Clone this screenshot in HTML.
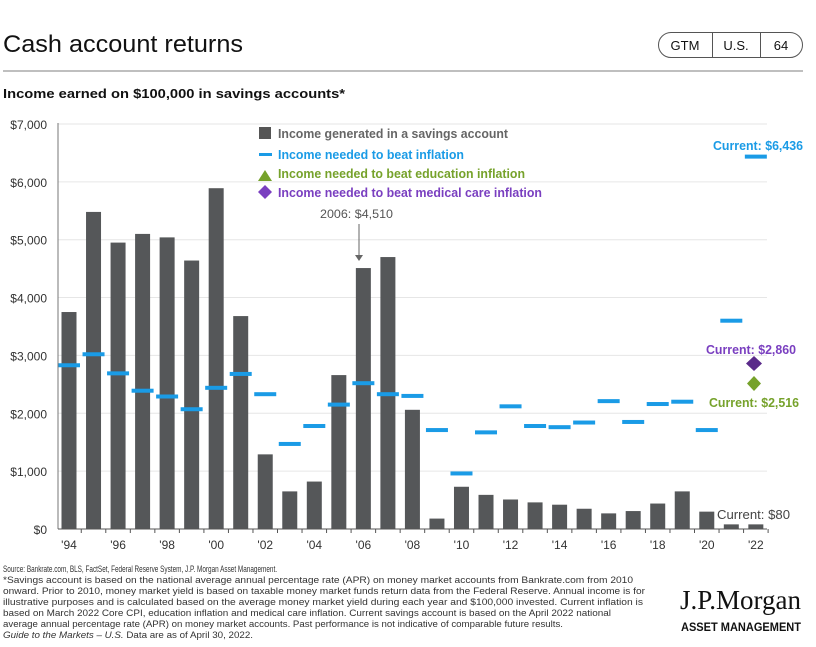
<!DOCTYPE html>
<html><head><meta charset="utf-8"><style>
html,body{margin:0;padding:0;background:#fff;}
svg{display:block;font-family:"Liberation Sans",sans-serif;}
</style></head><body>
<svg id="s" width="816" height="647" viewBox="0 0 816 647" xmlns="http://www.w3.org/2000/svg">
<text x="3" y="52" font-size="24" fill="#111" textLength="240" lengthAdjust="spacingAndGlyphs">Cash account returns</text>
<rect x="658.5" y="32.5" width="144" height="25" rx="12.5" fill="none" stroke="#555" stroke-width="1"/>
<line x1="712.5" y1="33" x2="712.5" y2="57" stroke="#555"/>
<line x1="760.5" y1="33" x2="760.5" y2="57" stroke="#555"/>
<text x="685" y="50" font-size="13" fill="#111" text-anchor="middle">GTM</text>
<text x="736" y="50" font-size="13" fill="#111" text-anchor="middle">U.S.</text>
<text x="781" y="50" font-size="13" fill="#111" text-anchor="middle">64</text>
<line x1="3" y1="71" x2="803" y2="71" stroke="#999" stroke-width="1.2"/>
<text x="3" y="98" font-size="13" font-weight="bold" fill="#111" textLength="342" lengthAdjust="spacingAndGlyphs">Income earned on $100,000 in savings accounts*</text>
<g id="grid"></g>
<g id="bars"></g>
<line x1="58" y1="123" x2="58" y2="529" stroke="#777" stroke-width="1"/>
<line x1="58" y1="529" x2="767" y2="529" stroke="#555" stroke-width="1"/>
<g id="ax" font-size="12" fill="#333"></g>
<rect x="259" y="127" width="12" height="12" fill="#555"/>
<text x="278" y="138" font-size="12.5" fill="#666" font-weight="bold" textLength="230" lengthAdjust="spacingAndGlyphs">Income generated in a savings account</text>
<rect x="259" y="153" width="13" height="3" fill="#1a9be6"/>
<text x="278" y="159" font-size="12.5" fill="#1a9be6" font-weight="bold" textLength="186" lengthAdjust="spacingAndGlyphs">Income needed to beat inflation</text>
<polygon points="265,170 272,181 258,181" fill="#76a22b"/>
<text x="278" y="178" font-size="12.5" fill="#76a22b" font-weight="bold" textLength="247" lengthAdjust="spacingAndGlyphs">Income needed to beat education inflation</text>
<polygon points="265,185 272,192 265,199 258,192" fill="#7a3fc0"/>
<text x="278" y="197" font-size="12.5" fill="#7a3fc0" font-weight="bold" textLength="264" lengthAdjust="spacingAndGlyphs">Income needed to beat medical care inflation</text>
<text x="320" y="218" font-size="12" fill="#555" textLength="73" lengthAdjust="spacingAndGlyphs">2006: $4,510</text>
<line x1="359" y1="224" x2="359" y2="256" stroke="#666" stroke-width="1"/>
<polygon points="355,255 363,255 359,261" fill="#666"/>
<text x="713" y="150" font-size="12.5" fill="#1a9be6" font-weight="bold" textLength="90" lengthAdjust="spacingAndGlyphs">Current: $6,436</text>
<text x="706" y="354" font-size="12.5" fill="#7a3fc0" font-weight="bold" textLength="90" lengthAdjust="spacingAndGlyphs">Current: $2,860</text>
<polygon points="754,356 762,363.5 754,371 746,363.5" fill="#5a2a8a"/>
<polygon points="754,376 761,383.5 754,391 747,383.5" fill="#76a22b"/>
<text x="709" y="407" font-size="12.5" fill="#76a22b" font-weight="bold" textLength="90" lengthAdjust="spacingAndGlyphs">Current: $2,516</text>
<text x="717" y="519" font-size="12.5" fill="#444" textLength="73" lengthAdjust="spacingAndGlyphs">Current: $80</text>
<g font-size="9" fill="#333">
<text x="3" y="572" textLength="274" lengthAdjust="spacingAndGlyphs">Source: Bankrate.com, BLS, FactSet, Federal Reserve System, J.P. Morgan Asset Management.</text>
<text x="3" y="583" textLength="630" lengthAdjust="spacingAndGlyphs">*Savings account is based on the national average annual percentage rate (APR) on money market accounts from Bankrate.com from 2010</text>
<text x="3" y="594" textLength="642" lengthAdjust="spacingAndGlyphs">onward. Prior to 2010, money market yield is based on taxable money market funds return data from the Federal Reserve. Annual income is for</text>
<text x="3" y="605" textLength="640" lengthAdjust="spacingAndGlyphs">illustrative purposes and is calculated based on the average money market yield during each year and $100,000 invested. Current inflation is</text>
<text x="3" y="616" textLength="608" lengthAdjust="spacingAndGlyphs">based on March 2022 Core CPI, education inflation and medical care inflation. Current savings account is based on the April 2022 national</text>
<text x="3" y="627" textLength="560" lengthAdjust="spacingAndGlyphs">average annual percentage rate (APR) on money market accounts. Past performance is not indicative of comparable future results.</text>
<text x="3" y="638" textLength="250" lengthAdjust="spacingAndGlyphs"><tspan font-style="italic">Guide to the Markets – U.S.</tspan> Data are as of April 30, 2022.</text>
</g>
<text x="680" y="609" font-family="Liberation Serif,serif" font-size="27" fill="#111" textLength="121" lengthAdjust="spacingAndGlyphs">J.P.Morgan</text>
<text x="681" y="631" font-size="11.5" font-weight="bold" fill="#111" textLength="120" lengthAdjust="spacingAndGlyphs">ASSET MANAGEMENT</text>
</svg>
<script>
var NS="http://www.w3.org/2000/svg";
function Y(v){return 529-v*0.05786;}
function el(p,t,a,txt){var e=document.createElementNS(NS,t);for(var k in a)e.setAttribute(k,a[k]);if(txt!=null)e.textContent=txt;document.getElementById(p).appendChild(e);}
for(var i=1;i<=7;i++){el("grid","line",{x1:58,x2:767,y1:Y(i*1000),y2:Y(i*1000),stroke:"#e6e6e6","stroke-width":1});}
for(var i=0;i<=7;i++){el("ax","text",{x:47,y:Y(i*1000)+5,"text-anchor":"end"},"$"+(i==0?"0":i+",000"));}
var inc=[3750,5480,4950,5100,5040,4640,5890,3680,1290,650,820,2660,4510,4700,2060,180,730,590,510,460,420,350,270,310,440,650,300,80,80];
var inf=[2830,3020,2690,2390,2290,2070,2440,2680,2330,1470,1780,2150,2520,2330,2300,1710,960,1670,2120,1780,1760,1840,2210,1850,2160,2200,1710,3600,6436];
for(var i=0;i<29;i++){var c=69+i*24.53;
el("bars","rect",{x:c-7.5,y:Y(inc[i]),width:15,height:529-Y(inc[i]),fill:"#555759"});
el("bars","rect",{x:c-11,y:Y(inf[i])-2,width:22,height:4,fill:"#1a9be6"});
if(i%2==0){var yr=(1994+i)%100;el("ax","text",{x:c,y:549,"text-anchor":"middle"},"'"+(yr<10?"0"+yr:yr));}
el("bars","line",{x1:c+12.26,x2:c+12.26,y1:529,y2:533,stroke:"#555"});
}
</script>
</body></html>
